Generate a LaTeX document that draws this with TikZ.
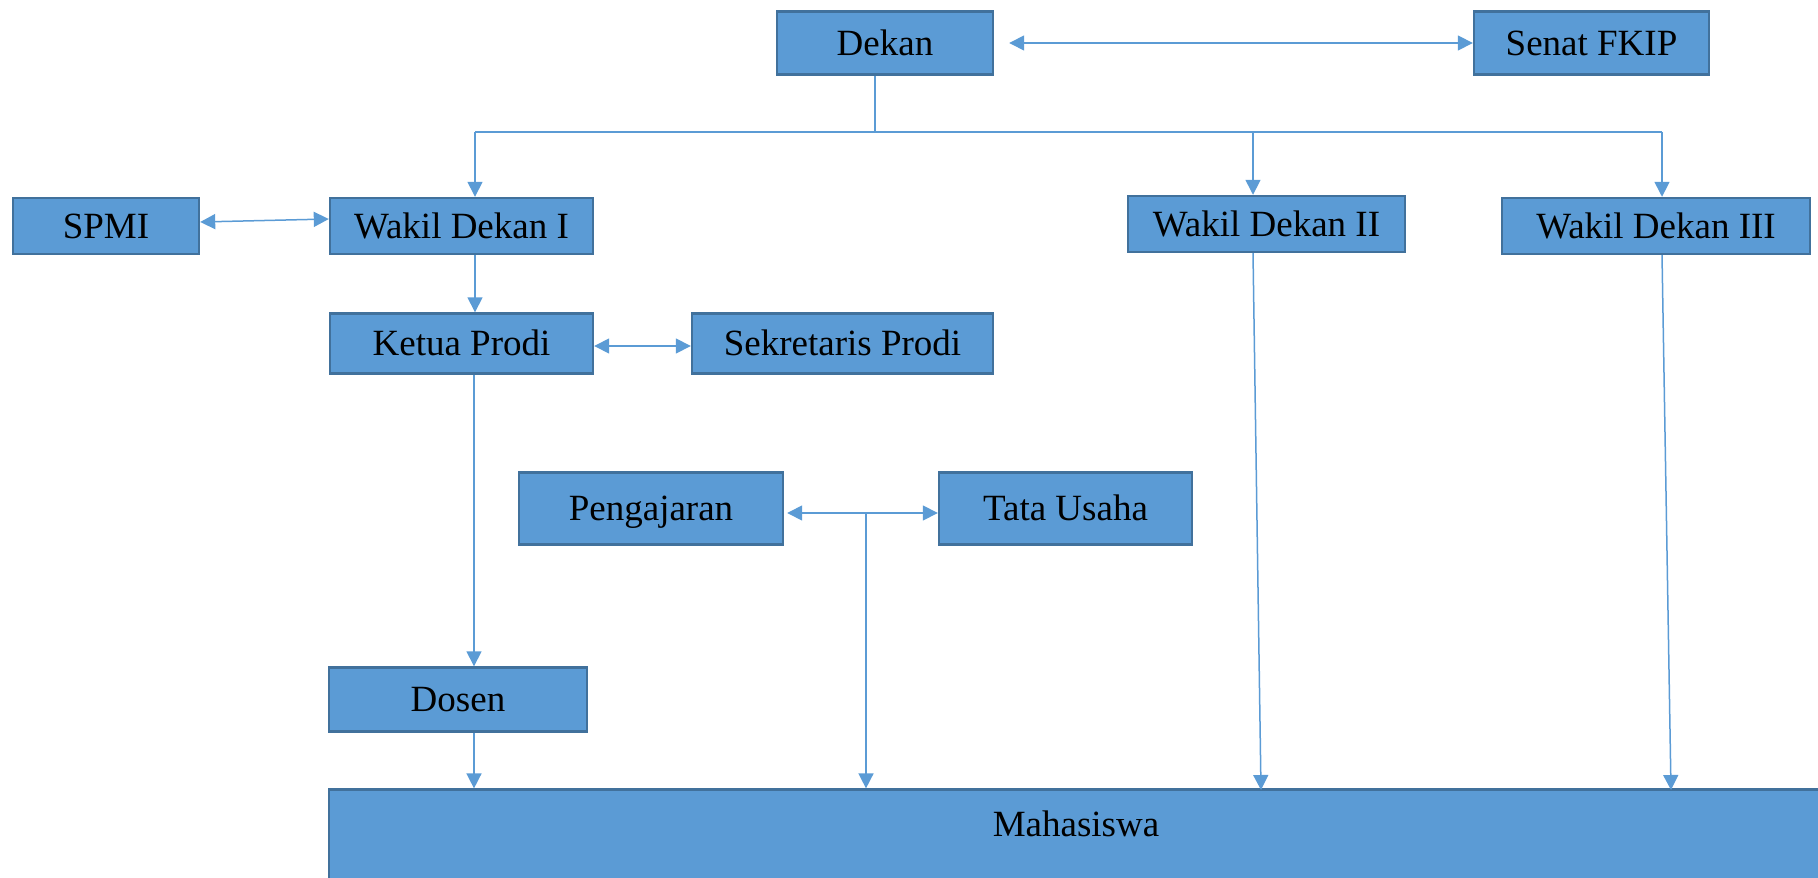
\documentclass[tikz,border=0pt]{standalone}
\usepackage{fontspec}
\setmainfont{Liberation Serif}
\usetikzlibrary{arrows.meta}
\definecolor{boxfill}{HTML}{5B9BD5}
\definecolor{boxline}{HTML}{41719C}
\definecolor{linkcol}{HTML}{5B9BD5}
\begin{document}
\begin{tikzpicture}[x=0.5pt,y=-0.5pt,
  box/.style={draw=boxline, fill=boxfill, line width=1.2pt, inner sep=0pt,
    font=\fontsize{18.5pt}{22pt}\selectfont, text=black, text height=14pt, text depth=1.75pt},
  link/.style={draw=linkcol, line width=0.75pt},
  arr/.style={link, -{Triangle[length=7.5pt,width=7.5pt]}},
  darr/.style={link, {Triangle[length=7.5pt,width=7.5pt]}-{Triangle[length=7.5pt,width=7.5pt]}}]
\useasboundingbox (0,0) rectangle (1818,877);
\clip (0,0) rectangle (1818,877);
% boxes
\node[box, minimum width=108pt, minimum height=31.5pt] (dekan) at (885,43) {Dekan};
\node[box, minimum width=117.5pt, minimum height=31.5pt] (senat) at (1591.5,43) {Senat FKIP};
\node[box, minimum width=93pt, minimum height=28pt] (spmi) at (106,226) {SPMI};
\node[box, minimum width=131.5pt, minimum height=28pt] (wd1) at (461.5,226) {Wakil Dekan I};
\node[box, minimum width=138.5pt, minimum height=28pt] (wd2) at (1266.5,224) {Wakil Dekan II};
\node[box, minimum width=154pt, minimum height=28pt] (wd3) at (1656,226) {Wakil Dekan III};
\node[box, minimum width=131.5pt, minimum height=30pt] (kp) at (461.5,343.5) {Ketua Prodi};
\node[box, minimum width=150.5pt, minimum height=30pt] (sp) at (842.5,343.5) {Sekretaris Prodi};
\node[box, minimum width=132pt, minimum height=36pt] (peng) at (651,508.5) {Pengajaran};
\node[box, minimum width=126.5pt, minimum height=36pt] (tu) at (1065.5,508.5) {Tata Usaha};
\node[box, minimum width=129pt, minimum height=32pt] (dosen) at (458,699.5) {Dosen};
\node[box, anchor=base, text height=23.2pt, text depth=60pt, minimum width=747pt] (mhs) at (1076,836) {Mahasiswa};
% connectors
\coordinate (busD) at (875,132);
\coordinate (busL) at (475,132);
\coordinate (busM) at (1253,132);
\coordinate (busR) at (1662,132);
\draw[link] (busD |- dekan.south) -- (busD);
\draw[link] (busL) -- (busR);
\draw[arr] (busL) -- (busL |- wd1.north);
\draw[arr] (busM) -- (busM |- wd2.north);
\draw[arr] (busR) -- (busR |- wd3.north);
\draw[darr] ([xshift=7.5pt]dekan.east) -- (senat.west);
\draw[darr] ([yshift=2pt]spmi.east) -- ([yshift=3.5pt]wd1.west);
\draw[arr] (busL |- wd1.south) -- (busL |- kp.north);
\draw[darr] ([yshift=-1.25pt]kp.east) -- ([yshift=-1.25pt]sp.west);
\coordinate (dx) at (474,0);
\draw[arr] (dx |- kp.south) -- (dx |- dosen.north);
\draw[arr] (dx |- dosen.south) -- (dx |- mhs.north);
\draw[darr] ([xshift=1.5pt,yshift=-2.25pt]peng.east) -- ([yshift=-2.25pt]tu.west);
\coordinate (pj) at (866,513);
\draw[arr] (pj) -- (pj |- mhs.north);
\coordinate (m2) at (1261,790);
\coordinate (m3) at (1671,790);
\draw[arr] ([xshift=-6.75pt]wd2.south) -- (m2);
\draw[arr] ([xshift=3pt]wd3.south) -- (m3);
\end{tikzpicture}
\end{document}
